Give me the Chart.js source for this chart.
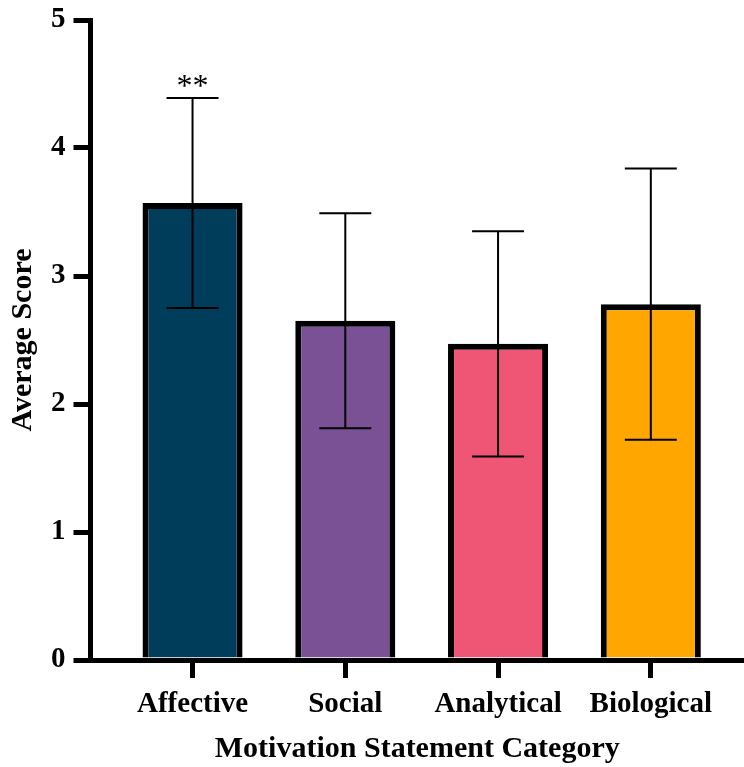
<!DOCTYPE html>
<html>
<head>
<meta charset="utf-8">
<script src="https://cdn.jsdelivr.net/npm/chart.js@4/dist/chart.umd.min.js"></script>
<style>
    html, body { margin: 0; padding: 0; background: #fff; }
    #wrap { width: 744px; height: 767px; }
</style>
</head>
<body>
<div id="wrap"><canvas id="scoreChart"></canvas></div>
<script>

// ==========================================================
// Data
// ==========================================================

const categories = ["Affective", "Social", "Analytical", "Biological"];

const meanScores = [3.57, 2.65, 2.47, 2.78];

const errorSD = [0.82, 0.84, 0.88, 1.06];

const sigLabels = ["**", "", "", ""];

const barColors = ["#003d5b", "#7a5195", "#ef5675", "#ffa600"];

const yTicks = [0, 1, 2, 3, 4, 5];

// ==========================================================
// Error bars + significance marks
// ==========================================================

const errorBarPlugin = {

    id: "errorBars",

    afterDatasetsDraw(chart){

        const ctx = chart.ctx;
        const x = chart.scales.x;
        const y = chart.scales.y;

        ctx.save();
        ctx.strokeStyle = "#000";
        ctx.lineWidth = 2;

        meanScores.forEach((m, i) => {

            const px = x.getPixelForValue(i);
            const top = y.getPixelForValue(m + errorSD[i]);
            const bot = y.getPixelForValue(m - errorSD[i]);

            ctx.beginPath();
            ctx.moveTo(px, top);
            ctx.lineTo(px, bot);
            ctx.moveTo(px - 26, top);
            ctx.lineTo(px + 26, top);
            ctx.moveTo(px - 26, bot);
            ctx.lineTo(px + 26, bot);
            ctx.stroke();

            if (sigLabels[i]) {
                ctx.fillStyle = "#000";
                ctx.font = "32px 'Liberation Serif'";
                ctx.textAlign = "center";
                ctx.textBaseline = "alphabetic";
                ctx.fillText(sigLabels[i], px, top - 2);
            }

        });

        ctx.restore();

    }

};

// ==========================================================
// Chart
// ==========================================================

const serif = "'Liberation Serif', 'Times New Roman', serif";

new Chart(document.getElementById("scoreChart"), {

    type: "bar",

    data: {

        datasets: [{

            data: categories.map((c, i) => ({ x: i, y: meanScores[i] })),

            backgroundColor: barColors,

            borderColor: "#000",

            borderWidth: 6,

            borderSkipped: "start",

            categoryPercentage: 1,

            barPercentage: 0.655

        }]

    },

    options: {

        responsive: true,

        maintainAspectRatio: false,

        animation: false,

        layout: {
            padding: { top: 20, right: 0, bottom: 0, left: 0 }
        },

        plugins: {
            legend: { display: false },
            tooltip: { enabled: false }
        },

        scales: {

            x: {

                type: "linear",

                offset: false,

                min: -0.668,

                max: 3.61,

                z: 1,

                afterBuildTicks(axis){
                    axis.ticks = categories.map((c, i) => ({ value: i }));
                },

                afterFit(axis){
                    axis.height = 107;
                },

                grid: {
                    offset: false,
                    drawOnChartArea: false,
                    drawTicks: true,
                    tickLength: 18,
                    lineWidth: 5,
                    color: "#000"
                },

                border: { display: true, width: 5, color: "#000" },

                ticks: {
                    autoSkip: false,
                    maxRotation: 0,
                    padding: 9,
                    color: "#000",
                    font: { family: serif, size: 29, weight: "bold" },
                    callback: (v) => categories[v]
                },

                title: {
                    display: true,
                    text: "Motivation Statement Category",
                    color: "#000",
                    font: { family: serif, size: 30, weight: "bold" },
                    padding: { top: 0, bottom: 0 }
                }

            },

            y: {

                min: 0,

                max: 5,

                z: 1,

                afterBuildTicks(axis){
                    axis.ticks = yTicks.map(v => ({ value: v }));
                },

                afterFit(axis){
                    axis.width = 90.5;
                    axis.paddingTop = 0;
                    axis.paddingBottom = 0;
                },

                grid: {
                    drawOnChartArea: false,
                    drawTicks: true,
                    tickLength: 17,
                    lineWidth: 5,
                    color: "#000"
                },

                border: { display: true, width: 5, color: "#000" },

                ticks: {
                    padding: 8,
                    color: "#000",
                    font: { family: serif, size: 29, weight: "bold" }
                },

                title: {
                    display: true,
                    text: "Average Score",
                    color: "#000",
                    font: { family: serif, size: 30, weight: "bold" },
                    padding: { top: 5, bottom: 0 }
                }

            }

        }

    },

    plugins: [errorBarPlugin]

});

</script>
</body>
</html>
